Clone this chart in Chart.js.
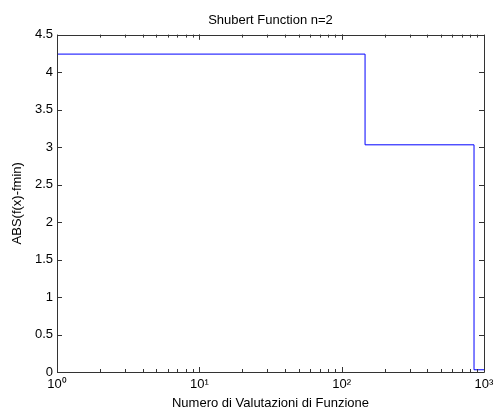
<!DOCTYPE html>
<html>
<head>
<meta charset="utf-8">
<script src="https://cdn.jsdelivr.net/npm/chart.js@4"></script>
<style>
  html, body { margin: 0; padding: 0; background: #fff; }
  #wrap { width: 501px; height: 416px; }
</style>
</head>
<body>
<div id="wrap"><canvas id="myChart1"></canvas></div>
<script>
// evaluations where the best value changes, and the error value
const evals = [1, 146, 851, 1000];
const errVals = [4.24, 3.03, 0.03, 0.03];
const xTickVals = [1, 10, 100, 1000];
const xTickLabels = ['10\u2070', '10\u00b9', '10\u00b2', '10\u00b3'];

let points = [];
for (let i = 0; i < evals.length; i++) {
  points.push({x: evals[i], y: errVals[i]});
}

const fontFam = '"Liberation Sans", Arial, sans-serif';

// matlab style box with inward ticks
const boxTicks = {
  id: 'boxTicks',
  afterDraw(chart) {
    const ctx = chart.ctx;
    const a = chart.chartArea;
    const xs = chart.scales.x;
    const ys = chart.scales.y;
    ctx.save();
    ctx.strokeStyle = '#333';
    ctx.lineWidth = 1;
    ctx.beginPath();
    ctx.rect(Math.round(a.left) + 0.5, Math.round(a.top) + 0.5,
      Math.round(a.right - a.left), Math.round(a.bottom - a.top));
    // y ticks
    ys.ticks.forEach(t => {
      const py = Math.round(ys.getPixelForValue(t.value)) + 0.5;
      ctx.moveTo(a.left, py); ctx.lineTo(a.left + 5, py);
      ctx.moveTo(a.right, py); ctx.lineTo(a.right - 5, py);
    });
    // x ticks, majors and minors
    for (let d = 1; d < 1000; d *= 10) {
      for (let m = 1; m <= 10; m++) {
        const v = d * m;
        const px = Math.round(xs.getPixelForValue(v)) + 0.5;
        const len = (m === 1 || m === 10) ? 5 : 3;
        ctx.moveTo(px, a.bottom); ctx.lineTo(px, a.bottom - len);
        ctx.moveTo(px, a.top); ctx.lineTo(px, a.top + len);
      }
    }
    ctx.stroke();
    ctx.restore();
  }
};

const ctx1 = document.getElementById('myChart1');

new Chart(ctx1, {
  type: 'scatter',
  data: {
    datasets: [{
      data: points,
      showLine: true,
      stepped: 'before',
      borderColor: '#0000ff',
      borderWidth: 1,
      pointRadius: 0,
      fill: false
    }]
  },
  plugins: [boxTicks],
  options: {
    responsive: true,
    maintainAspectRatio: false,
    animation: false,
    layout: { padding: { left: 0, right: 17, top: 0, bottom: 0 } },
    plugins: {
      legend: { display: false },
      tooltip: { enabled: false },
      title: {
        display: true,
        fullSize: false,
        text: 'Shubert Function n=2',
        color: '#000',
        font: { family: fontFam, size: 13, weight: 'normal' },
        padding: { top: 13, bottom: 6 }
      }
    },
    scales: {
      x: {
        type: 'logarithmic',
        min: 1,
        max: 1000,
        afterBuildTicks: (scale) => {
          scale.ticks = xTickVals.map(v => ({value: v}));
        },
        afterFit: (scale) => { scale.height = 44; },
        grid: { display: false, drawTicks: false },
        border: { display: false },
        ticks: {
          color: '#000',
          padding: 5,
          maxRotation: 0,
          autoSkip: false,
          font: { family: fontFam, size: 13 },
          callback: function(value) {
            const i = xTickVals.indexOf(value);
            return i >= 0 ? xTickLabels[i] : '';
          }
        },
        title: {
          display: true,
          text: 'Numero di Valutazioni di Funzione',
          color: '#000',
          font: { family: fontFam, size: 13 },
          padding: { top: 0, bottom: 5 }
        }
      },
      y: {
        min: 0,
        max: 4.5,
        afterFit: (scale) => { scale.width = 57; },
        grid: { display: false, drawTicks: false },
        border: { display: false },
        ticks: {
          stepSize: 0.5,
          color: '#000',
          padding: 4,
          font: { family: fontFam, size: 13 },
          callback: (value) => String(value)
        },
        title: {
          display: true,
          text: 'ABS(f(x)-fmin)',
          color: '#000',
          font: { family: fontFam, size: 13 },
          padding: { top: 10, bottom: 0 }
        }
      }
    }
  }
});
</script>
</body>
</html>
